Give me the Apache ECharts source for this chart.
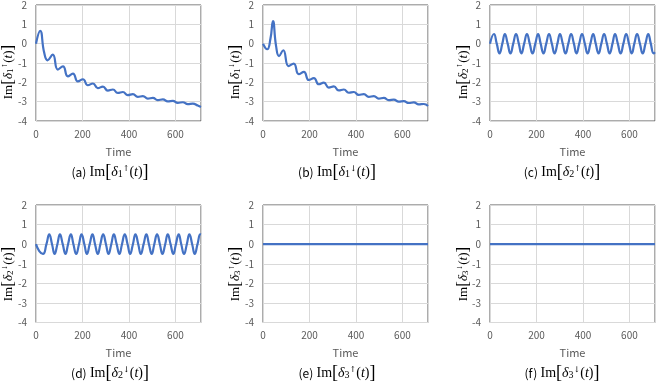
<!DOCTYPE html>
<html><head><meta charset="utf-8">
<script src="https://cdn.jsdelivr.net/npm/echarts@6/dist/echarts.min.js"></script>
<style>html,body{margin:0;padding:0;background:#fff}#c{width:664px;height:383px}</style>
</head><body><div id="c"></div>
<script>
// ---- data ----
const xTickLabels = ['0', '200', '400', '600'];
const yTickLabels = ['-4', '-3', '-2', '-1', '0', '1', '2'];
const panelLetters = ['a', 'b', 'c', 'd', 'e', 'f'];
const panelIndex = [1, 1, 2, 2, 3, 3];
const panelSpin = ['↑', '↓', '↑', '↓', '↑', '↓'];

const time_a = [0, 18, 35, 50, 72, 94, 116, 137, 159, 180, 202, 223, 245, 266, 288, 309, 331, 352, 374, 395, 417, 438, 460, 481, 503, 524, 546, 567, 589, 610, 632, 653, 675, 696, 710];
const im_a = [0, 0.66, -0.45, -0.86, -0.57, -1.34, -1.17, -1.69, -1.55, -1.95, -1.84, -2.15, -2.06, -2.30, -2.22, -2.43, -2.37, -2.55, -2.50, -2.66, -2.61, -2.75, -2.71, -2.84, -2.80, -2.92, -2.88, -2.99, -2.96, -3.06, -3.03, -3.13, -3.10, -3.20, -3.27];

const time_b = [0, 18, 32, 43, 56, 69, 87, 110, 132, 154, 176, 197, 219, 240, 262, 283, 305, 326, 348, 369, 391, 412, 434, 455, 477, 498, 520, 541, 563, 584, 606, 627, 649, 670, 692, 710];
const im_b = [0, -0.29, 0.25, 1.17, -0.1, -0.64, -0.34, -1.16, -1.03, -1.58, -1.46, -1.88, -1.78, -2.10, -2.02, -2.27, -2.21, -2.42, -2.37, -2.54, -2.50, -2.65, -2.61, -2.75, -2.71, -2.84, -2.80, -2.92, -2.89, -3.00, -2.97, -3.07, -3.04, -3.14, -3.12, -3.22];

const time_c = [0, 17, 29, 41, 53, 64, 76, 88, 100, 112, 124, 135, 147, 159, 171, 183, 195, 207, 218, 230, 242, 254, 266, 278, 290, 301, 313, 325, 337, 349, 361, 372, 384, 396, 408, 420, 432, 444, 455, 467, 479, 491, 503, 515, 527, 538, 550, 562, 574, 586, 598, 610, 621, 633, 645, 657, 669, 681, 692, 704, 710];
const im_c = [0,
  0.5, 0, -0.5, 0, 0.5, 0, -0.5, 0, 0.5, 0, -0.5, 0, 0.5, 0, -0.5, 0,
  0.5, 0, -0.5, 0, 0.5, 0, -0.5, 0, 0.5, 0, -0.5, 0, 0.5, 0, -0.5, 0,
  0.5, 0, -0.5, 0, 0.5, 0, -0.5, 0, 0.5, 0, -0.5, 0, 0.5, 0, -0.5, 0,
  0.5, 0, -0.5, 0, 0.5, 0, -0.5, 0,
  0.5, 0, -0.5, -0.44];

const time_d = [0, 14, 30, 45, 57, 69, 80, 92, 103, 115, 127, 138, 150, 161, 173, 185, 196, 208, 219, 231, 243, 254, 266, 277, 289, 301, 312, 324, 335, 347, 359, 370, 382, 394, 405, 417, 428, 440, 451, 463, 475, 486, 498, 509, 521, 533, 544, 556, 567, 579, 591, 602, 614, 625, 637, 649, 660, 672, 683, 695, 707, 710];
const im_d = [0, -0.35, -0.5, 0,
  0.5, 0, -0.5, 0, 0.5, 0, -0.5, 0, 0.5, 0, -0.5, 0, 0.5, 0, -0.5, 0,
  0.5, 0, -0.5, 0, 0.5, 0, -0.5, 0, 0.5, 0, -0.5, 0, 0.5, 0, -0.5, 0,
  0.5, 0, -0.5, 0, 0.5, 0, -0.5, 0, 0.5, 0, -0.5, 0, 0.5, 0, -0.5, 0,
  0.5, 0, -0.5, 0, 0.5, 0, -0.5, 0,
  0.5, 0.49];

const time_e = [0, 710];
const im_e = [0, 0];
const time_f = [0, 710];
const im_f = [0, 0];

// ---- build ----
const times = [time_a, time_b, time_c, time_d, time_e, time_f];
const values = [im_a, im_b, im_c, im_d, im_e, im_f];

const lefts = [36, 263, 490];
const plotW = 165;
const tops = [5, 205];
const plotH = [116, 117.5];
const yLabelX = [8.5, 235.5, 463.5];
const yLabelY = [72, 274];
const capX = [110, 337, 562];
const capY = [172, 373];

const serif = 'Liberation Serif';
function makeRich(sz) {
  return {
    f: {fontFamily: serif, fontSize: sz, lineHeight: 20, fill: '#000'},
    b: {fontFamily: serif, fontSize: sz + 4, lineHeight: 20, fill: '#000'},
    i: {fontFamily: serif, fontStyle: 'italic', fontSize: sz, lineHeight: 20, fill: '#000'},
    sub: {fontFamily: serif, fontSize: sz - 4, lineHeight: 20, verticalAlign: 'bottom', padding: [0, 0, 3, 0], fill: '#000'},
    sup: {fontFamily: 'DejaVu Serif', fontSize: sz - 6, lineHeight: 20, verticalAlign: 'top', padding: [3, 0, 0, 0], fill: '#000'},
    s: {fontFamily: 'Noto Sans CJK JP', fontSize: 12, lineHeight: 20, fill: '#000'}
  };
}
const richAxis = makeRich(13);
const richCap = makeRich(14);
function mathLabel(k) {
  return '{f|Im}{b|[}{i|δ}{sub|' + panelIndex[k] + '}{sup|' + panelSpin[k] + '}{f|(}{i|t}{f|)}{b|]}';
}

const grids = [], xAxes = [], yAxes = [], series = [], graphics = [];
for (let k = 0; k < 6; k++) {
  const r = Math.floor(k / 3), c = k % 3;
  grids.push({left: lefts[c], top: tops[r], width: plotW, height: plotH[r], show: true,
    borderColor: '#595959', borderWidth: 1, containLabel: false});
  xAxes.push({type: 'value', gridIndex: k, min: 0, max: 710, interval: 200,
    name: 'Time', nameLocation: 'middle', nameGap: 25,
    nameTextStyle: {color: '#595959', fontSize: 11, fontFamily: 'Noto Sans CJK JP'},
    axisLine: {show: false}, axisTick: {show: false},
    axisLabel: {color: '#595959', fontSize: 10, fontFamily: 'Noto Sans CJK JP', margin: 8,
      showMaxLabel: false, formatter: v => xTickLabels[xTickLabels.indexOf(String(v))] || ''},
    splitLine: {show: true, lineStyle: {color: '#d9d9d9', width: 1}}});
  yAxes.push({type: 'value', gridIndex: k, min: -4, max: 2, interval: 1,
    axisLine: {show: false}, axisTick: {show: false},
    axisLabel: {color: '#595959', fontSize: 10, fontFamily: 'Noto Sans CJK JP', margin: 9,
      formatter: v => yTickLabels[yTickLabels.indexOf(String(v))] || ''},
    splitLine: {show: true, lineStyle: {color: '#d9d9d9', width: 1}}});
  series.push({type: 'line', xAxisIndex: k, yAxisIndex: k, smooth: 0.5, showSymbol: false,
    lineStyle: {color: '#4472C4', width: 2.2}, itemStyle: {color: '#4472C4'},
    data: times[k].map((t, i) => [t, values[k][i]]), animation: false, z: 3});
  graphics.push({type: 'text', x: yLabelX[c], y: yLabelY[r], rotation: Math.PI / 2,
    style: {text: mathLabel(k), rich: richAxis, align: 'center', verticalAlign: 'middle'}});
  graphics.push({type: 'text', x: capX[c], y: capY[r],
    style: {text: '{s|(' + panelLetters[k] + ')} ' + mathLabel(k), rich: richCap, align: 'center', verticalAlign: 'middle'}});
}

const chart = echarts.init(document.getElementById('c'), null, {renderer: 'canvas'});
chart.setOption({animation: false, backgroundColor: '#fff', grid: grids, xAxis: xAxes, yAxis: yAxes, series: series, graphic: graphics});
</script></body></html>
